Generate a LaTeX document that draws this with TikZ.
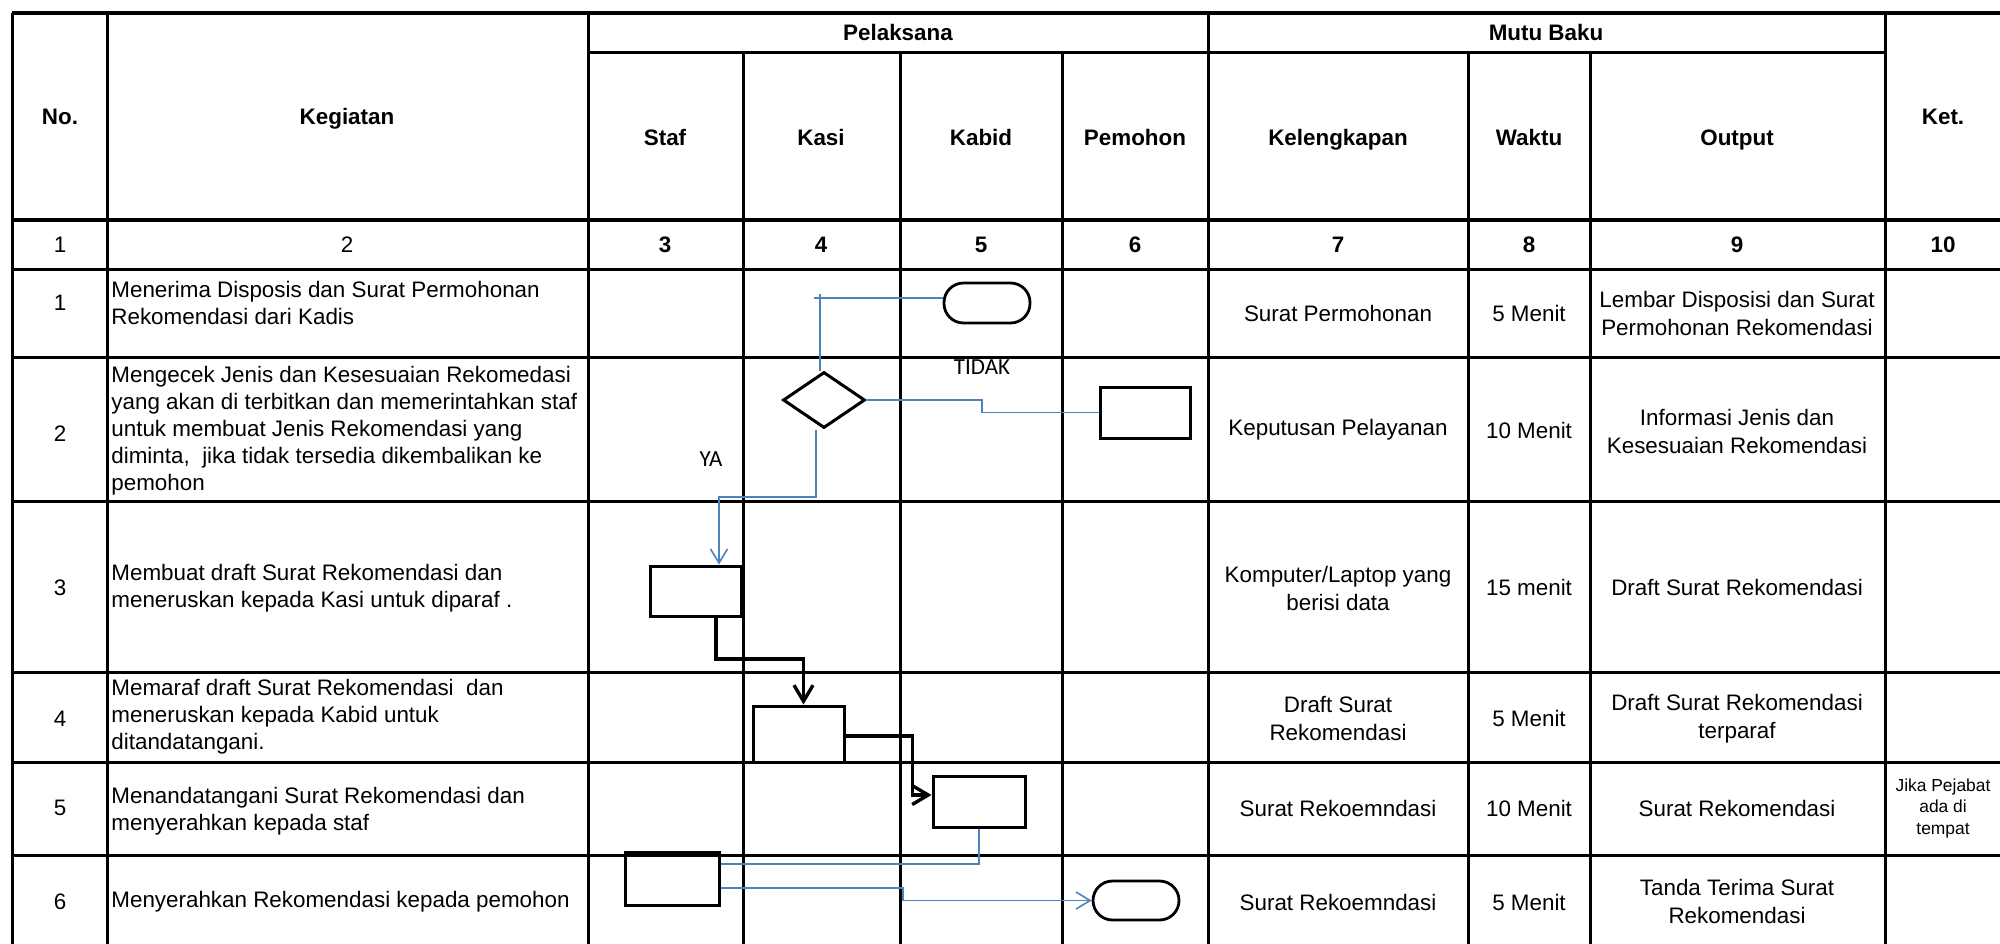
\documentclass[tikz,border=0pt]{standalone}
\usepackage{fontspec}
\setmainfont{Liberation Sans}
\newfontfamily\calib{Carlito}
\usetikzlibrary{arrows.meta,shapes.geometric}
\definecolor{flowblue}{RGB}{79,129,189}
\begin{document}
\begin{tikzpicture}[x=0.5pt,y=-0.5pt,
  grid/.style={line width=1.5pt,black},
  hdr/.style={font=\fontsize{11.2}{13}\selectfont\bfseries, inner sep=0pt, align=center},
  txt/.style={font=\fontsize{11.2}{14}\selectfont, inner sep=0pt, align=center},
  ltxt/.style={font=\fontsize{11.2}{13.5}\selectfont, inner sep=0pt, align=left, anchor=west},
  ktxt/.style={font=\fontsize{8.7}{10.75}\selectfont, inner sep=0pt, align=center},
  boxr/.style={draw, line width=1.5pt, inner sep=0pt},
  term/.style={draw, line width=1.4pt, rounded corners=9.75pt, inner sep=0pt},
  dec/.style={draw, diamond, line width=1.5pt, inner sep=0pt},
  bl/.style={draw=flowblue, line width=0.8pt},
  blarr/.style={bl, -{Straight Barb[length=7pt,width=8.5pt]}},
  bk/.style={draw, line width=1.7pt},
  bkarr/.style={bk, -{Straight Barb[length=8pt,width=9.5pt]}},
  lbl/.style={font=\calib\fontsize{11.5}{13}\selectfont, inner sep=0pt}
]
\useasboundingbox (0,0) rectangle (2000,943);
\clip (0,0) rectangle (2000,943);
% ---- grid ----
\foreach \yy in {13,220}{\draw[grid, line width=2pt] (12,\yy) -- (2010,\yy);}
\foreach \yy in {269,357,501,672,762,855}{\draw[grid] (12,\yy) -- (2010,\yy);}
\draw[grid] (588,52) -- (1885,52);
\foreach \xx in {12,107,588,1208,1885,2004}{\draw[grid] (\xx,13) -- (\xx,960);}
\foreach \xx in {743,900,1062,1468,1590}{\draw[grid] (\xx,52) -- (\xx,960);}
% ---- headers ----
\node[hdr, anchor=base] (hno) at (60,124) {No.};
\node[hdr, anchor=base] (hkeg) at (347,124) {Kegiatan};
\node[hdr, anchor=base] (hpel) at (898,40) {Pelaksana};
\node[hdr, anchor=base] (hmutu) at (1546,40) {Mutu Baku};
\node[hdr, anchor=base] (hket) at (1943,124) {Ket.};
\node[hdr, anchor=base] (hstaf) at (665,145) {Staf};
\node[hdr, anchor=base] (hkasi) at (821,145) {Kasi};
\node[hdr, anchor=base] (hkabid) at (981,145) {Kabid};
\node[hdr, anchor=base] (hpem) at (1135,145) {Pemohon};
\node[hdr, anchor=base] (hkel) at (1338,145) {Kelengkapan};
\node[hdr, anchor=base] (hwak) at (1529,145) {Waktu};
\node[hdr, anchor=base] (hout) at (1737,145) {Output};
% ---- number row ----
\node[txt, anchor=base] (n1) at (60,252) {1};
\node[txt, anchor=base] (n2) at (347,252) {2};
\node[hdr, anchor=base] (n3) at (665,252) {3};
\node[hdr, anchor=base] (n4) at (821,252) {4};
\node[hdr, anchor=base] (n5) at (981,252) {5};
\node[hdr, anchor=base] (n6) at (1135,252) {6};
\node[hdr, anchor=base] (n7) at (1338,252) {7};
\node[hdr, anchor=base] (n8) at (1529,252) {8};
\node[hdr, anchor=base] (n9) at (1737,252) {9};
\node[hdr, anchor=base] (n10) at (1943,252) {10};
% ---- No. column ----
\node[txt] (r1no) at (60,303) {1};
\node[txt] (r2no) at (60,434) {2};
\node[txt] (r3no) at (60,588) {3};
\node[txt] (r4no) at (60,719) {4};
\node[txt] (r5no) at (60,808) {5};
\node[txt] (r6no) at (60,902) {6};
% ---- Kegiatan ----
\node[ltxt] (k1) at (111,303) {Menerima Disposis dan Surat Permohonan\\Rekomendasi dari Kadis};
\node[ltxt] (k2) at (111,431) {Mengecek Jenis dan Kesesuaian Rekomedasi\\yang akan di terbitkan dan memerintahkan staf\\untuk membuat Jenis Rekomendasi yang\\diminta,~ jika tidak tersedia dikembalikan ke\\pemohon};
\node[ltxt] (k3) at (111,588) {Membuat draft Surat Rekomendasi dan\\meneruskan kepada Kasi untuk diparaf .};
\node[ltxt] (k4) at (111,717) {Memaraf draft Surat Rekomendasi~ dan\\meneruskan kepada Kabid untuk\\ditandatangani.};
\node[ltxt] (k5) at (111,811) {Menandatangani Surat Rekomendasi dan\\menyerahkan kepada staf};
\node[ltxt] (k6) at (111,902) {Menyerahkan Rekomendasi kepada pemohon};
% ---- Kelengkapan ----
\node[txt] (l1) at (1338,313) {Surat Permohonan};
\node[txt] (l2) at (1338,430) {Keputusan Pelayanan};
\node[txt] (l3) at (1338,588) {Komputer/Laptop yang\\berisi data};
\node[txt] (l4) at (1338,718) {Draft Surat\\Rekomendasi};
\node[txt] (l5) at (1338,808) {Surat Rekoemndasi};
\node[txt] (l6) at (1338,902) {Surat Rekoemndasi};
% ---- Waktu ----
\node[txt] (w1) at (1529,313) {5 Menit};
\node[txt] (w2) at (1529,430) {10 Menit};
\node[txt] (w3) at (1529,587) {15 menit};
\node[txt] (w4) at (1529,718) {5 Menit};
\node[txt] (w5) at (1529,808) {10 Menit};
\node[txt] (w6) at (1529,902) {5 Menit};
% ---- Output ----
\node[txt] (o1) at (1737,313) {Lembar Disposisi dan Surat\\Permohonan Rekomendasi};
\node[txt] (o2) at (1737,431) {Informasi Jenis dan\\Kesesuaian Rekomendasi};
\node[txt] (o3) at (1737,587) {Draft Surat Rekomendasi};
\node[txt] (o4) at (1737,719) {Draft Surat Rekomendasi\\terparaf};
\node[txt] (o5) at (1737,808) {Surat Rekomendasi};
\node[txt] (o6) at (1737,901) {Tanda Terima Surat\\Rekomendasi};
% ---- Ket ----
\node[ktxt] (ket5) at (1943,808) {Jika Pejabat\\ada di\\tempat};
% ---- flow shapes ----
\node[term, minimum width=43pt, minimum height=20pt] (t1) at (987,303) {};
\node[dec, minimum width=41pt, minimum height=28pt] (d) at (824,400) {};
\node[boxr, minimum width=45pt, minimum height=25.5pt] (r2) at (1145,412.5) {};
\node[boxr, minimum width=45.5pt, minimum height=25pt] (r3) at (695.5,591) {};
\node[boxr, minimum width=45.5pt, minimum height=28pt] (r4) at (798.5,734) {};
\node[boxr, minimum width=46pt, minimum height=25.5pt] (r5) at (979,801.5) {};
\node[boxr, minimum width=47pt, minimum height=26.5pt] (r6) at (672,878.5) {};
\node[term, minimum width=43pt, minimum height=19.5pt] (t6) at (1136,900.5) {};
% ---- labels ----
\node[lbl] (tidak) at (982,367) {TIDAK};
\node[lbl] (ya) at (711,459) {YA};
% ---- connectors ----
\coordinate (k1a) at (814,298);
\coordinate (k1b) at (820,294);
\draw[bl] ([yshift=2.5pt]t1.west) -- (k1a);
\draw[bl] (k1b) -- (k1b |- d.north);
\coordinate (c2) at (982,400);
\draw[bl] (d.east) -- (c2) |- (r2.west);
\coordinate (ya1) at (719,497);
\draw[blarr] ([xshift=-4pt]d.south) |- (ya1) -- (ya1 |- r3.north);
\coordinate (b1) at (716,659);
\draw[bkarr] (r3.south -| b1) -- (b1) -| ([xshift=2.5pt]r4.north);
\coordinate (b2) at (912.5,795);
\draw[bkarr] ([yshift=-1pt]r4.east) -| (b2) -- (b2 -| r5.west);
\coordinate (b3) at (979,864);
\draw[bl] (r5.south) -- (b3) -- (b3 -| r6.east);
\coordinate (b4) at (903,888);
\draw[blarr] (b4 -| r6.east) -- (b4) |- (t6.west);
\end{tikzpicture}
\end{document}
